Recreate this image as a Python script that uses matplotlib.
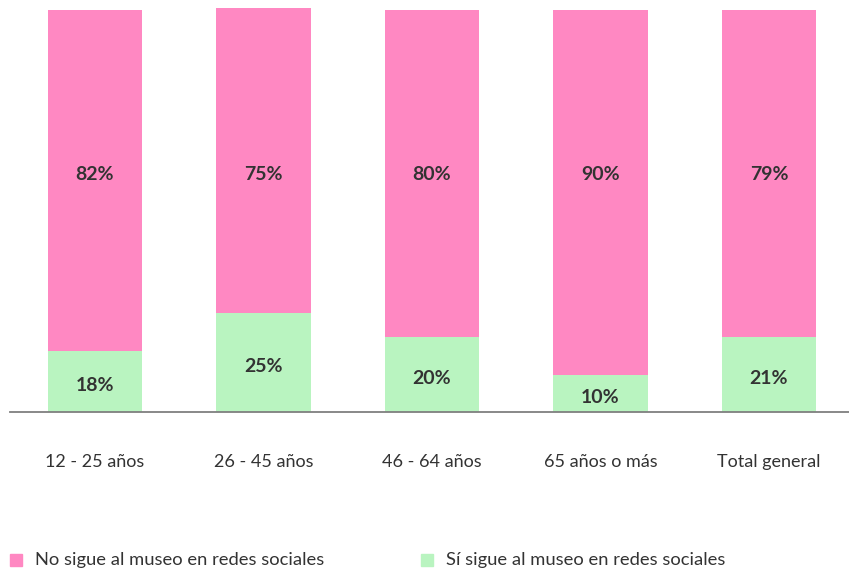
import matplotlib
matplotlib.use("Agg")
import matplotlib.pyplot as plt
from matplotlib.patches import Rectangle

plt.rcParams['font.family'] = ['Lato', 'DejaVu Sans']

categories = ["12 - 25 años", "26 - 45 años", "46 - 64 años", "65 años o más", "Total general"]
# bar heights as drawn in the picture (percent)
no_sigue = [84.8, 75.9, 81.3, 90.8, 81.3]
si_sigue = [15.2, 24.6, 18.7, 9.2, 18.7]
# printed labels
no_labels = ["82%", "75%", "80%", "90%", "79%"]
si_labels = ["18%", "25%", "20%", "10%", "21%"]
series_names = ["No sigue al museo en redes sociales", "Sí sigue al museo en redes sociales"]

pink = "#FF88C2"
green = "#B9F4C0"
txt = "#333333"

fig = plt.figure(figsize=(8.49, 5.73), dpi=100)
ax = fig.add_axes([10/849, 1 - 412/573, 839/849, 412/573])

x = list(range(len(categories)))
w = 0.56
ax.bar(x, si_sigue, width=w, color=green, zorder=2)
ax.bar(x, no_sigue, width=w, bottom=si_sigue, color=pink, zorder=2)

for i in x:
    ax.text(i, si_sigue[i] / 2 - 0.9, si_labels[i], ha='center', va='center',
            fontsize=14, fontweight='bold', color=txt, zorder=3)
    ax.text(i, 59.0, no_labels[i], ha='center', va='center',
            fontsize=14, fontweight='bold', color=txt, zorder=3)

ax.set_xlim(-0.504, 4.475)
ax.set_ylim(0, 102.5)
for s in ['top', 'right', 'left']:
    ax.spines[s].set_visible(False)
ax.spines['bottom'].set_color('#7f7f7f')
ax.spines['bottom'].set_linewidth(1.3)
ax.spines['bottom'].set_zorder(4)
ax.set_yticks([])
ax.set_xticks(x)
ax.set_xticklabels(categories, fontsize=13, color=txt)
ax.tick_params(axis='x', length=0, pad=30)

# legend
leg_y = 560
for (sx, tx, col, name) in [(10, 35, pink, series_names[0]), (421, 446, green, series_names[1])]:
    fig.patches.append(Rectangle((sx/849, 1 - (leg_y + 6)/573), 12/849, 12/573,
                                 transform=fig.transFigure, color=col, figure=fig))
    fig.text(tx/849, 1 - leg_y/573, name, fontsize=13.2, color=txt, ha='left', va='center')

fig.savefig("out.png", dpi=100)
